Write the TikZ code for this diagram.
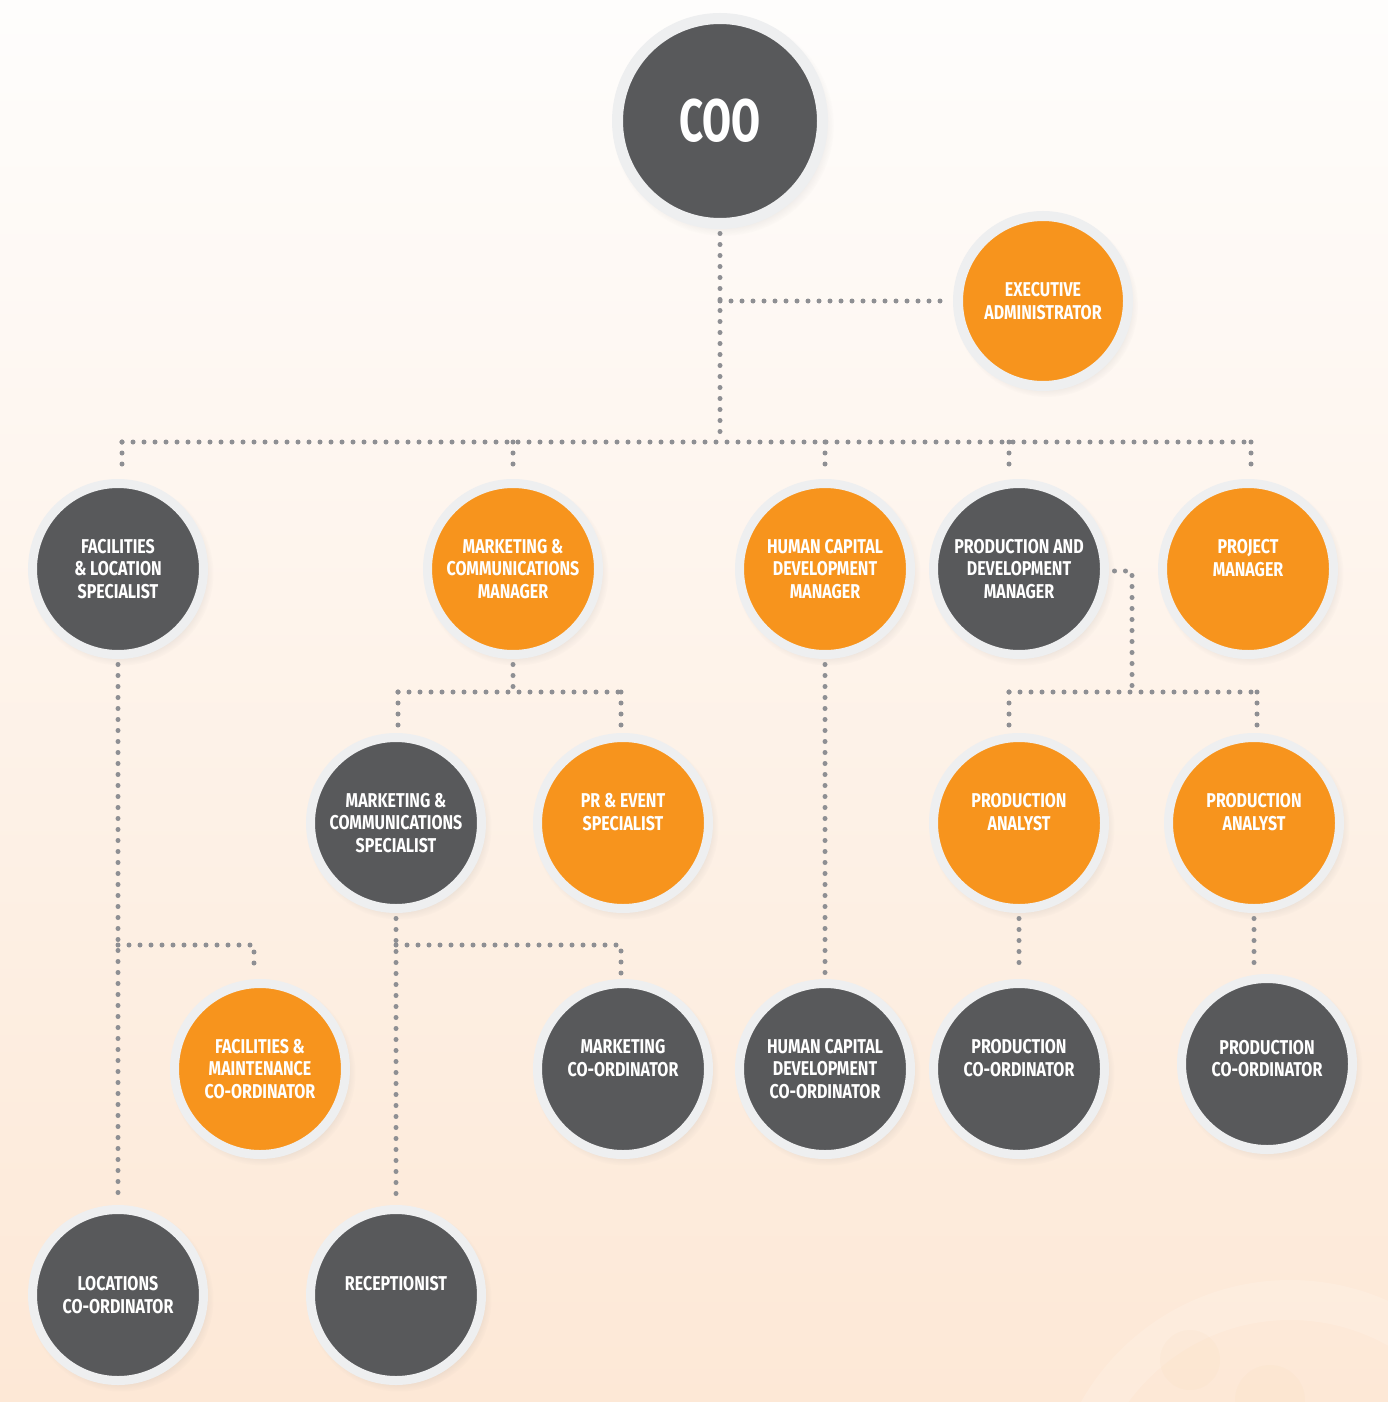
\documentclass[tikz,border=0pt]{standalone}
\usepackage{fontspec}
\setmainfont{Fira Sans}[FakeStretch=0.8]
\newfontfamily\coofont{Fira Sans}[FakeStretch=0.7]
\usetikzlibrary{shadows}
\definecolor{darkc}{HTML}{58595B}
\definecolor{orangec}{HTML}{F7941D}
\definecolor{ringc}{HTML}{EEEFF0}
\definecolor{dotc}{HTML}{8E8F93}
\definecolor{bgtop}{HTML}{FEFDFC}
\definecolor{bgbot}{HTML}{FDE8D6}
\tikzset{
  person/.style={circle, minimum size=171pt, line width=9pt, draw=ringc,
    inner sep=0pt, outer sep=10pt, text=white, align=center,
    font=\fontsize{20}{22.5}\selectfont\bfseries,
    circular drop shadow={shadow xshift=3pt, shadow yshift=-4pt, shadow scale=1.08, opacity=0.18}},
  darkp/.style={person, fill=darkc},
  orangep/.style={person, fill=orangec},
  dotline/.style={draw=dotc, line width=5pt, line cap=round, dash pattern=on 0pt off 11pt}
}
\newcommand{\el}{\\\mbox{}}
\begin{document}
\begin{tikzpicture}[x=1pt,y=-1pt]
\shade[top color=bgtop, bottom color=bgbot] (0,0) rectangle (1388,1402);
\useasboundingbox (0,0) rectangle (1388,1402);
\begin{scope}
\clip (0,0) rectangle (1388,1402);
\draw[white, opacity=0.15, line width=40pt] (1290,1520) circle (220);
\fill[orangec, opacity=0.025] (1190,1360) circle (30);
\fill[orangec, opacity=0.025] (1270,1400) circle (35);
\end{scope}

% nodes
\node[darkp, minimum size=205pt, line width=11pt, font=\fontsize{60}{60}\selectfont\coofont\bfseries] (coo) at (720,121) {COO};
\node[orangep, minimum size=170pt, line width=10pt] (exa) at (1043,301) {EXECUTIVE\\ADMINISTRATOR};

\node[darkp] (fls) at (118,569) {FACILITIES\\\& LOCATION\\SPECIALIST};
\node[orangep] (mcm) at (513,569) {MARKETING \&\\COMMUNICATIONS\\MANAGER};
\node[orangep] (hcm) at (825,569) {HUMAN CAPITAL\\DEVELOPMENT\\MANAGER};
\node[darkp] (pdm) at (1019,569) {PRODUCTION AND\\DEVELOPMENT\\MANAGER};
\node[orangep] (pjm) at (1248,569) {PROJECT\\MANAGER\el};

\node[darkp] (mcs) at (396,823) {MARKETING \&\\COMMUNICATIONS\\SPECIALIST};
\node[orangep] (pre) at (623,823) {PR \& EVENT\\SPECIALIST\el};
\node[orangep] (pa1) at (1019,823) {PRODUCTION\\ANALYST\el};
\node[orangep] (pa2) at (1254,823) {PRODUCTION\\ANALYST\el};

\node[orangep] (fmc) at (260,1069) {FACILITIES \&\\MAINTENANCE\\CO-ORDINATOR};
\node[darkp] (mkc) at (623,1069) {MARKETING\\CO-ORDINATOR\el};
\node[darkp] (hcc) at (825,1069) {HUMAN CAPITAL\\DEVELOPMENT\\CO-ORDINATOR};
\node[darkp] (pc1) at (1019,1069) {PRODUCTION\\CO-ORDINATOR\el};
\node[darkp] (pc2) at (1267,1064) {PRODUCTION\\CO-ORDINATOR\\[-11pt]\mbox{}};

\node[darkp] (loc) at (118,1295) {LOCATIONS\\CO-ORDINATOR};
\node[darkp] (rec) at (396,1295) {RECEPTIONIST\el};

% connector coordinates
\coordinate (busL) at (122,442);
\coordinate (busR) at (1251,442);
\coordinate (pdmdrop) at (1009,442);
\coordinate (fmcbus) at (254,945);
\coordinate (mcL) at (398,692);
\coordinate (mcR) at (621,692);
\coordinate (pdturn) at (1132,571);
\coordinate (paL) at (1009,692);
\coordinate (paR) at (1257,692);
\coordinate (mkbus) at (621,945);

% connectors
\draw[dotline] (coo.south) -- (coo.south |- busL);
\draw[dotline] (coo.south |- exa) -- (exa.west);
\draw[dotline] (busL) -- (busR);
\draw[dotline] (busL) -- (busL |- fls.north);
\draw[dotline] (mcm.north |- busL) -- (mcm.north);
\draw[dotline] (hcm.north |- busL) -- (hcm.north);
\draw[dotline] (pdmdrop) -- (pdmdrop |- pdm.north);
\draw[dotline] (busR) -- (busR |- pjm.north);

\draw[dotline] (fls.south) -- (fls.south |- loc.north);
\draw[dotline] (fls.south |- fmcbus) -- (fmcbus) -- (fmcbus |- fmc.north);

\draw[dotline] (mcm.south) -- (mcm.south |- mcL);
\draw[dotline] (mcL) -- (mcR);
\draw[dotline] (mcL) -- (mcL |- mcs.north);
\draw[dotline] (mcR) -- (mcR |- pre.north);

\draw[dotline] (hcm.south) -- (hcc.north);

\draw[dotline] (pdm.east |- pdturn) -- (pdturn) -- (pdturn |- paL);
\draw[dotline] (paL) -- (paR);
\draw[dotline] (paL) -- (paL |- pa1.north);
\draw[dotline] (paR) -- (paR |- pa2.north);

\draw[dotline] (mcs.south) -- (mcs.south |- rec.north);
\draw[dotline] (mcs.south |- mkbus) -- (mkbus) -- (mkbus |- mkc.north);

\draw[dotline] (pa1.south) -- (pc1.north);
\draw[dotline] (pa2.south) -- (pa2.south |- pc2.north);
\end{tikzpicture}
\end{document}
